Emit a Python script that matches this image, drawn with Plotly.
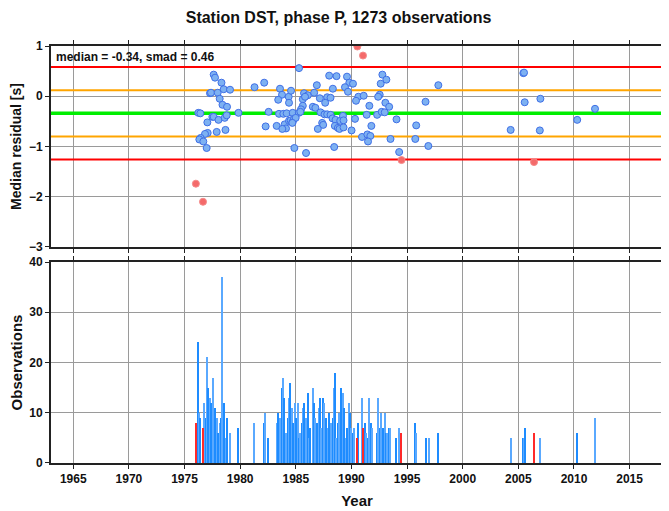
import plotly.graph_objects as go

# ---------------- data ----------------
title_text = "Station DST, phase P, 1273 observations"
median = -0.34
smad = 0.46

res_years = [1977.62, 1977.74, 1978.32, 1977.29, 1977.38, 1977.98, 1978.52, 1979.09, 1978.16, 1978.41,
             1978.82, 1976.24, 1976.42, 1979.85, 1977.50, 1977.62, 1978.05, 1978.61, 1978.79, 1977.05,
             1978.68, 1977.89, 1977.08, 1976.84, 1976.45, 1976.33, 1976.69, 1976.99, 1981.29, 1982.16,
             1983.58, 1983.76, 1983.42, 1984.36, 1984.57, 1982.56, 1983.49, 1983.88, 1984.18, 1984.39,
             1984.72, 1982.29, 1983.28, 1984.00, 1984.12, 1983.79, 1984.39, 1984.54, 1984.72, 1984.84,
             1984.87, 1985.29, 1988.00, 1988.66, 1989.60, 1989.81, 1990.14, 1992.78, 1993.14, 1992.63,
             1986.89, 1989.42, 1988.33, 1989.69, 1985.74, 1986.08, 1986.65, 1987.16, 1987.82, 1988.12,
             1985.63, 1985.83, 1987.64, 1990.62, 1991.10, 1990.41, 1992.54, 1992.40, 1993.05, 1993.39,
             1991.61, 1985.63, 1985.47, 1986.53, 1986.76, 1987.22, 1987.58, 1987.82, 1988.12, 1985.27,
             1985.41, 1988.30, 1988.57, 1988.99, 1989.24, 1989.29, 1990.32, 1991.37, 1992.31, 1992.72,
             1992.99, 1994.05, 1984.99, 1984.69, 1987.37, 1987.46, 1988.51, 1988.78, 1988.93, 1989.29,
             1986.98, 1990.01, 1991.79, 1990.95, 1991.43, 1991.70, 1991.49, 1993.51, 1985.92, 1988.45,
             1994.29, 1997.81, 1996.66, 1995.82, 1995.74, 1996.91, 2004.31, 2005.45, 2005.51, 2005.57,
             2006.98, 2006.93, 2010.29, 2011.89]
res_values = [0.43, 0.37, 0.27, 0.06, 0.07, 0.07, 0.14, 0.13, -0.05, -0.17,
              -0.21, -0.33, -0.34, -0.33, -0.41, -0.41, -0.47, -0.43, -0.38, -0.52,
              -0.67, -0.71, -0.73, -0.75, -0.83, -0.86, -0.90, -1.03, 0.18, 0.27,
              0.15, 0.03, -0.07, -0.01, 0.11, -0.31, -0.35, -0.35, -0.34, -0.13,
              -0.33, -0.60, -0.59, -0.56, -0.64, -0.65, -0.49, -0.48, -0.51, -0.45,
              -1.03, 0.56, 0.41, 0.40, 0.39, 0.27, 0.25, 0.43, 0.33, 0.25,
              0.22, 0.18, 0.15, 0.09, 0.06, 0.02, 0.07, -0.04, -0.02, -0.03,
              -0.06, -0.01, -0.13, -0.01, 0.01, -0.09, 0.03, -0.01, -0.13, -0.21,
              -0.19, -0.19, -0.26, -0.21, -0.23, -0.32, -0.36, -0.36, -0.37, -0.33,
              -0.31, -0.44, -0.47, -0.49, -0.39, -0.48, -0.45, -0.37, -0.37, -0.31,
              -0.32, -0.46, -0.43, -0.53, -0.53, -0.57, -0.59, -0.63, -0.65, -0.62,
              -0.65, -0.68, -0.59, -0.81, -0.76, -0.79, -0.90, -0.85, -1.13, -1.01,
              -1.11, 0.22, -0.11, -0.58, -0.85, -0.99, -0.67, 0.46, 0.47, -0.12,
              -0.05, -0.68, -0.47, -0.25]

out_years = [1976.02, 1976.66, 1990.53, 1991.04, 1994.50, 2006.41]
out_values = [-1.74, -2.10, 0.99, 0.81, -1.27, -1.31]

obs_years = [1976.20, 1976.29, 1976.45, 1976.75, 1976.90, 1977.05, 1977.14, 1977.26, 1977.41, 1977.56,
             1977.71, 1977.89, 1978.05, 1978.16, 1978.32, 1978.41, 1978.59, 1978.70, 1978.86, 1979.09,
             1979.85, 1981.29, 1982.13, 1982.25, 1982.56, 1983.33, 1983.42, 1983.55, 1983.73, 1983.85,
             1983.97, 1984.12, 1984.27, 1984.39, 1984.51, 1984.63, 1984.78, 1984.90, 1985.02, 1985.17,
             1985.27, 1985.38, 1985.56, 1985.68, 1985.77, 1985.92, 1986.08, 1986.19, 1986.31, 1986.53,
             1986.65, 1986.76, 1986.92, 1987.07, 1987.19, 1987.31, 1987.43, 1987.58, 1987.70, 1987.88,
             1988.03, 1988.18, 1988.33, 1988.42, 1988.54, 1988.66, 1988.79, 1988.93, 1989.11, 1989.24,
             1989.35, 1989.51, 1989.62, 1989.78, 1989.90, 1990.01, 1990.14, 1990.26, 1990.62, 1990.95,
             1991.19, 1991.34, 1991.46, 1991.61, 1991.73, 1991.82, 1992.31, 1992.40, 1992.54, 1992.69,
             1992.85, 1992.99, 1993.08, 1993.17, 1993.39, 1993.48, 1994.05, 1994.32, 1995.74, 1995.85,
             1996.69, 1996.96, 1997.81, 2004.34, 2005.39, 2005.48, 2005.60, 2006.98, 2010.29, 2011.92]
obs_counts = [24, 10, 9, 12, 9, 21, 15, 13, 12, 17,
              11, 9, 6, 8, 9, 37, 12, 5, 9, 6,
              7, 8, 8, 10, 5, 8, 10, 9, 15, 17,
              13, 6, 9, 13, 16, 11, 8, 12, 9, 12,
              5, 6, 8, 11, 12, 9, 14, 5, 7, 15,
              12, 9, 8, 11, 13, 7, 13, 12, 9, 7,
              10, 8, 9, 15, 18, 5, 8, 10, 15, 14,
              11, 5, 7, 12, 10, 7, 6, 7, 8, 13,
              8, 6, 5, 13, 8, 7, 6, 13, 7, 10,
              7, 10, 6, 6, 7, 7, 5, 7, 8, 6,
              5, 5, 6, 5, 5, 5, 7, 5, 6, 9]

out_obs_years = [1976.02, 1976.63, 1990.53, 1991.04, 1994.50, 2006.41]
out_obs_counts = [8, 7, 5, 7, 6, 6]

x_ticks = [1965, 1970, 1975, 1980, 1985, 1990, 1995, 2000, 2005, 2010, 2015]
x_range = [1963, 2018]

# ---------------- figure ----------------
FONT = "Liberation Sans, Arial, Helvetica, sans-serif"
fig = go.Figure()

# reference lines (median, +-1 smad, +-2 smad)
line_specs = [
    (median + 2 * smad, "#ff0000", 2),
    (median - 2 * smad, "#ff0000", 2),
    (median + smad, "#ffa500", 2),
    (median - smad, "#ffa500", 2),
    (median, "#00ee00", 3.5),
]
for yv, col, w in line_specs:
    fig.add_trace(go.Scatter(x=x_range, y=[yv, yv], mode="lines",
                             line=dict(color=col, width=w), hoverinfo="skip",
                             showlegend=False, xaxis="x", yaxis="y"))

fig.add_trace(go.Scatter(x=res_years, y=res_values, mode="markers",
                         marker=dict(size=7, color="#7db1f2", line=dict(color="#3f6fe6", width=1)),
                         showlegend=False, xaxis="x", yaxis="y"))
fig.add_trace(go.Scatter(x=out_years, y=out_values, mode="markers",
                         marker=dict(size=7, color="#f46a6a", line=dict(color="#f58a8a", width=1)),
                         showlegend=False, xaxis="x", yaxis="y"))

bar_cols = ["#1e8cff" if i % 2 == 0 else "#5aa9ff" for i in range(len(obs_years))]
fig.add_trace(go.Bar(x=obs_years, y=obs_counts, width=0.12,
                     marker=dict(color=bar_cols, line=dict(width=0)),
                     showlegend=False, xaxis="x2", yaxis="y2"))
fig.add_trace(go.Bar(x=out_obs_years, y=out_obs_counts, width=0.12,
                     marker=dict(color="#ff2a2a", line=dict(width=0)),
                     showlegend=False, xaxis="x2", yaxis="y2"))

axis_common = dict(showline=True, linecolor="#222222", linewidth=2, mirror="allticks",
                   ticks="outside", ticklen=4, tickcolor="#222222", tickwidth=1,
                   showgrid=True, gridcolor="#9a9a9a", gridwidth=1, zeroline=False,
                   automargin=False,
                   tickfont=dict(family=FONT, size=12, color="#111111", weight="bold"))

# the page body adds an 8px offset, so the figure is 8px smaller and margins shifted
fig.update_layout(
    width=661, height=503,
    paper_bgcolor="white", plot_bgcolor="white",
    margin=dict(l=43, r=6, t=38, b=48),
    barmode="overlay", bargap=0,
    title=dict(text=title_text, x=0.5, xanchor="center", y=0.982, yanchor="middle",
               font=dict(family=FONT, size=16, color="#111111", weight="bold")),
    xaxis=dict(domain=[0, 1], range=x_range, tickvals=x_ticks, showticklabels=False,
               anchor="y", **axis_common),
    yaxis=dict(domain=[0.518, 1], range=[-3, 1], tickvals=[1, 0, -1, -2, -3],
               anchor="x",
               title=dict(text="Median residual [s]", standoff=9,
                          font=dict(family=FONT, size=14, color="#111111", weight="bold")),
               **axis_common),
    xaxis2=dict(domain=[0, 1], range=x_range, tickvals=x_ticks, anchor="y2",
                title=dict(text="Year", standoff=10,
                           font=dict(family=FONT, size=15, color="#111111", weight="bold")),
                **axis_common),
    yaxis2=dict(domain=[0, 0.482], range=[0, 40], tickvals=[0, 10, 20, 30, 40],
                anchor="x2",
                title=dict(text="Observations", standoff=9,
                           font=dict(family=FONT, size=15, color="#111111", weight="bold")),
                **axis_common),
    annotations=[dict(text=f"median = {median:.2f}, smad = {smad:.2f}",
                      xref="x domain", yref="y domain", x=0.005, y=0.99,
                      xanchor="left", yanchor="top", showarrow=False,
                      font=dict(family=FONT, size=12, color="#111111", weight="bold"))],
)

fig.write_html("out.html")
